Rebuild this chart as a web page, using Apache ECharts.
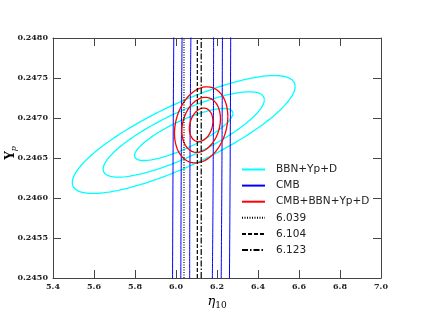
<!DOCTYPE html>
<html><head><meta charset="utf-8">
<script src="https://cdn.jsdelivr.net/npm/echarts@6/dist/echarts.min.js"></script>
<style>html,body{margin:0;padding:0;background:#fff}#c{width:424px;height:318px}</style>
</head><body><div id="c"></div>
<script>
// Axis ticks
const xTicks = [5.4, 5.6, 5.8, 6.0, 6.2, 6.4, 6.6, 6.8, 7.0];
const yTicks = [0.2450, 0.2455, 0.2460, 0.2465, 0.2470, 0.2475, 0.2480];
const legendNames = ['BBN+Yp+D', 'CMB', 'CMB+BBN+Yp+D', '6.039', '6.104', '6.123'];

// Contour families (Gaussian likelihood: centre, sigmas, correlation)
const bbnCenter = [6.0376, 0.246794];
const bbnSigma = [0.158, 0.0002142];
const bbnRho = 0.815;
const cmbCenter = [6.125, 0.2465];
const cmbSigma = [0.04172, 0.005];
const cmbRho = 0.2397;
const combCenter = [6.1227, 0.246914];
const combSigma = [0.0378, 0.0001384];
const combRho = 0.22;
const contourLevels = [1.52, 2.49, 3.44]; // sqrt(delta chi^2): 68.3%, 95.4%, 99.7%
const cmbLevels = [1.40, 2.45, 3.44];     // CMB contour widths

// Vertical reference values of eta_10
const etaValues = [6.039, 6.104, 6.123];

function ellipse(c, s, r, k) {
  const pts = [];
  const n = 1440;
  const q = Math.sqrt(1 - r * r);
  for (let i = 0; i <= n; i++) {
    const t = 2 * Math.PI * i / n;
    const u = k * Math.cos(t), v = k * Math.sin(t);
    pts.push([c[0] + s[0] * u, c[1] + s[1] * (r * u + q * v)]);
  }
  return pts;
}

const series = [];
function addFamily(name, c, s, r, levels, color, width) {
  levels.forEach(k => {
    series.push({
      name: name, type: 'line', data: ellipse(c, s, r, k),
      symbol: 'none', smooth: false, clip: true, silent: true,
      lineStyle: { color: color, width: width }, itemStyle: { color: color },
      animation: false, xAxisIndex: 0, yAxisIndex: 0
    });
  });
}
addFamily('BBN+Yp+D', bbnCenter, bbnSigma, bbnRho, contourLevels, '#00ffff', 1.3);
addFamily('CMB', cmbCenter, cmbSigma, cmbRho, cmbLevels, '#0000ff', 1);
addFamily('CMB+BBN+Yp+D', combCenter, combSigma, combRho, contourLevels, '#ff0000', 1.3);

const dashTypes = [[1, 1.5], [4, 2], [6, 2, 1.5, 2]];
etaValues.forEach((e, i) => {
  series.push({
    name: legendNames[3 + i], type: 'line',
    data: [[e, yTicks[0]], [e, yTicks[yTicks.length - 1]]],
    symbol: 'none', silent: true, animation: false,
    lineStyle: { color: '#000', width: 1.2, type: dashTypes[i] },
    itemStyle: { color: '#000' }
  });
});

const axisCol = '#444';
const labelFont = { fontFamily: 'DejaVu Serif', fontWeight: 'bold', fontSize: 8, color: '#222' };

const chart = echarts.init(document.getElementById('c'), null, { renderer: 'canvas' });
chart.setOption({
  animation: false,
  backgroundColor: '#fff',
  grid: { left: 53, right: 43, top: 38, bottom: 40, containLabel: false, outerBoundsMode: 'none' },
  legend: {
    data: legendNames, orient: 'vertical', left: 241, top: 163.5, padding: 0,
    itemWidth: 23, itemHeight: 12, itemGap: 4.1, selectedMode: false,
    itemStyle: { opacity: 0 },
    textStyle: { fontFamily: 'DejaVu Sans', fontSize: 10.5, color: '#222', lineHeight: 12, padding: [0, 0, 0, 6] }
  },
  xAxis: [{
    type: 'value', min: xTicks[0], max: xTicks[xTicks.length - 1], interval: 0.2, position: 'bottom',
    axisLine: { show: true, lineStyle: { color: axisCol, width: 1 } },
    axisTick: { show: true, inside: true, length: 8, lineStyle: { color: axisCol } },
    axisLabel: Object.assign({ margin: 5, formatter: v => v.toFixed(1) }, labelFont),
    splitLine: { show: false },
    name: '{e|η}{s|10}', nameLocation: 'middle', nameGap: 16, nameMoveOverlap: false,
    nameTextStyle: { rich: {
      e: { fontFamily: 'DejaVu Serif', fontStyle: 'italic', fontSize: 13, color: '#000', lineHeight: 16 },
      s: { fontFamily: 'DejaVu Serif', fontSize: 9, color: '#000', lineHeight: 16, verticalAlign: 'bottom', padding: [5, 0, 0, 0] }
    } }
  }, {
    type: 'value', min: xTicks[0], max: xTicks[xTicks.length - 1], interval: 0.2, position: 'top',
    axisLine: { show: true, lineStyle: { color: axisCol, width: 1 } },
    axisTick: { show: true, inside: true, length: 8, lineStyle: { color: axisCol } },
    axisLabel: { show: false }, splitLine: { show: false }
  }],
  yAxis: [{
    type: 'value', min: yTicks[0], max: yTicks[yTicks.length - 1], interval: 0.0005, position: 'left',
    axisLine: { show: true, lineStyle: { color: axisCol, width: 1 } },
    axisTick: { show: true, inside: true, length: 8, lineStyle: { color: axisCol } },
    axisLabel: Object.assign({ margin: 5, formatter: v => v.toFixed(4) }, labelFont),
    splitLine: { show: false },
    name: '{y|Y}{p|p}', nameLocation: 'middle', nameRotate: 90, nameGap: 35, nameMoveOverlap: false,
    nameTextStyle: { padding: [0, 0, 0, 10], rich: {
      y: { fontFamily: 'DejaVu Serif', fontWeight: 'bold', fontSize: 12, color: '#000', lineHeight: 14 },
      p: { fontFamily: 'DejaVu Serif', fontStyle: 'italic', fontSize: 8, color: '#000', lineHeight: 14, verticalAlign: 'bottom', padding: [5, 0, 0, 0] }
    } }
  }, {
    type: 'value', min: yTicks[0], max: yTicks[yTicks.length - 1], interval: 0.0005, position: 'right',
    axisLine: { show: true, lineStyle: { color: axisCol, width: 1 } },
    axisTick: { show: true, inside: true, length: 8, lineStyle: { color: axisCol } },
    axisLabel: { show: false }, splitLine: { show: false }
  }],
  series: series
});
</script>
</body></html>
